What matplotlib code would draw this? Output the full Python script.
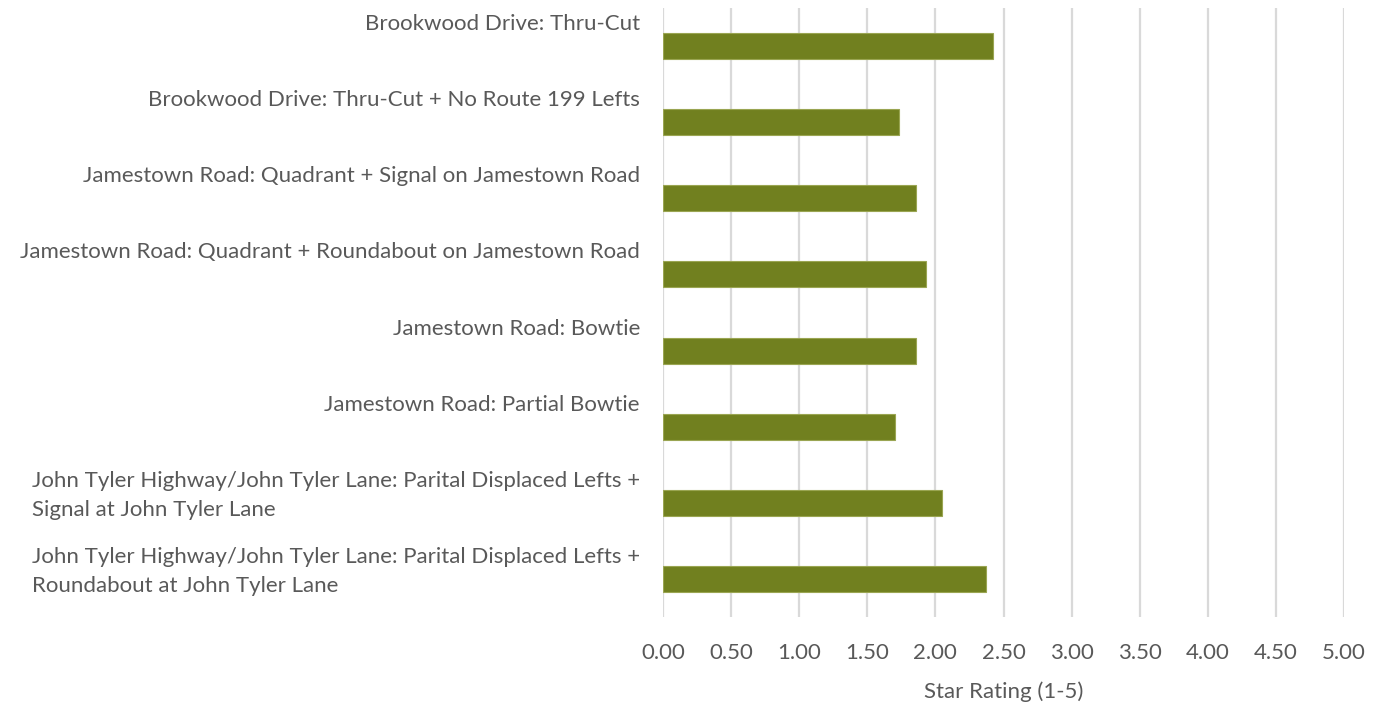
import matplotlib
matplotlib.use("Agg")
import matplotlib.pyplot as plt
import matplotlib.transforms as mtrans

# star ratings per alternative, top to bottom
alternatives = [
    "Brookwood Drive: Thru-Cut",
    "Brookwood Drive: Thru-Cut + No Route 199 Lefts",
    "Jamestown Road: Quadrant + Signal on Jamestown Road",
    "Jamestown Road: Quadrant + Roundabout on Jamestown Road",
    "Jamestown Road: Bowtie",
    "Jamestown Road: Partial Bowtie",
    "John Tyler Highway/John Tyler Lane: Parital Displaced Lefts +\nSignal at John Tyler Lane",
    "John Tyler Highway/John Tyler Lane: Parital Displaced Lefts +\nRoundabout at John Tyler Lane",
]
ratings = [2.42, 1.73, 1.86, 1.93, 1.86, 1.70, 2.05, 2.37]
xticks = [0, 0.5, 1, 1.5, 2, 2.5, 3, 3.5, 4, 4.5, 5]

plt.rcParams['font.family'] = ['Lato', 'DejaVu Sans']
grey = '#595959'

fig = plt.figure(figsize=(13.94, 7.03), dpi=100)
ax = fig.add_axes([663/1394, 1 - 617/703, (1344 - 663)/1394, (617 - 8)/703])

pos = list(range(len(alternatives)))
ax.barh(pos, ratings, height=0.34, color='#71801F', edgecolor='#9aa552', linewidth=0.8, zorder=3)

ax.set_xlim(0, 5)
ax.set_ylim(len(alternatives) - 0.5, -0.5)
ax.set_xticks(xticks)
ax.set_xticklabels(['%.2f' % t for t in xticks], color=grey, fontsize=16)
ax.tick_params(axis='x', length=0, pad=19)
ax.set_yticks([])
ax.grid(axis='x', color='#d9d9d9', linewidth=1.6, zorder=0)
for s in ax.spines.values():
    s.set_visible(False)
ax.set_xlabel('Star Rating (1-5)', color=grey, fontsize=16, labelpad=13)

# category labels sit above their bars, right-aligned left of the axis
off = mtrans.ScaledTranslation(-23/100, 0, fig.dpi_scale_trans)
trans = mtrans.blended_transform_factory(ax.transAxes, ax.transData) + off
for p, name in zip(pos, alternatives):
    ax.text(0, p - 0.42, name, transform=trans, ha='right', va='top',
            multialignment='left', color=grey, fontsize=16, linespacing=1.55)

fig.savefig('out.png', dpi=100)
